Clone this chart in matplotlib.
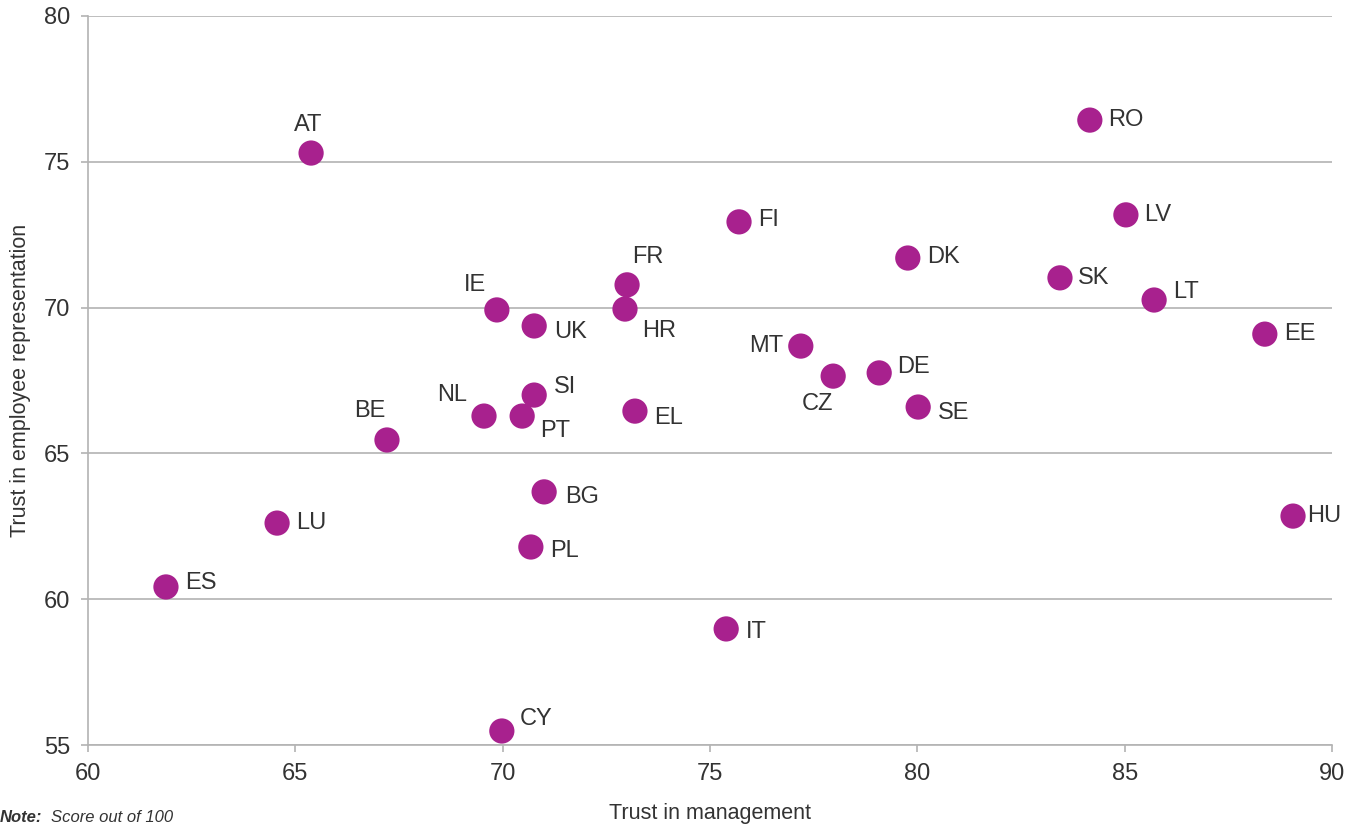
import matplotlib
matplotlib.use("Agg")
import matplotlib.pyplot as plt

countries = ["AT", "RO", "LV", "FI", "DK", "SK", "LT", "EE", "HU", "FR", "HR", "IE", "UK",
             "MT", "CZ", "DE", "SE", "SI", "NL", "PT", "EL", "BE", "BG", "LU", "PL", "ES",
             "IT", "CY"]
trust_management = [65.38, 84.16, 85.03, 75.70, 79.77, 83.44, 85.71, 88.38, 89.06, 73.00,
                    72.95, 69.86, 70.76, 77.19, 77.97, 79.08, 80.02, 70.76, 69.55, 70.47,
                    73.19, 67.21, 71.00, 64.56, 70.68, 61.88, 75.39, 69.98]
trust_representation = [75.30, 76.43, 73.18, 72.94, 71.70, 71.02, 70.26, 69.09, 62.85, 70.78,
                        69.95, 69.92, 69.37, 68.68, 67.65, 67.76, 66.59, 67.00, 66.28, 66.28,
                        66.45, 65.46, 63.68, 62.61, 61.79, 60.42, 58.98, 55.48]
# label placement: (dx, dy in points, ha)
label_pos = {
    "AT": (-2, 20, "center"), "RO": (13, 0, "left"), "LV": (13, 0, "left"),
    "FI": (14, 1, "left"), "DK": (14, 1, "left"), "SK": (13, 0, "left"),
    "LT": (14, 6, "left"), "EE": (14, 0, "left"), "HU": (10, 0, "left"),
    "FR": (4, 20, "left"), "HR": (12, -16, "left"), "IE": (-8, 18, "right"),
    "UK": (14, -4, "left"), "MT": (-13, 0, "right"), "CZ": (0, -20, "right"),
    "DE": (13, 4, "left"), "SE": (14, -4, "left"), "SI": (14, 6, "left"),
    "NL": (-12, 15, "right"), "PT": (13, -11, "left"), "EL": (14, -5, "left"),
    "BE": (-12, 21, "center"), "BG": (15, -4, "left"), "LU": (14, 0, "left"),
    "PL": (14, -3, "left"), "ES": (14, 3, "left"), "IT": (14, -2, "left"),
    "CY": (13, 9, "left"),
}

plt.rcParams['font.family'] = ['Liberation Sans', 'DejaVu Sans']
txt = "#333333"
grid = "#b3b3b3"

fig = plt.figure(figsize=(13.62, 8.25), dpi=100)
ax = fig.add_axes([88/1362, 1-745/825, (1332-88)/1362, (745-16)/825])

ax.set_xlim(60, 90)
ax.set_ylim(55, 80)
ax.set_xticks([60, 65, 70, 75, 80, 85, 90])
ax.set_yticks([55, 60, 65, 70, 75, 80])
ax.yaxis.grid(True, color=grid, linewidth=1.2)
ax.set_axisbelow(True)
for s in ["top", "right"]:
    ax.spines[s].set_visible(False)
for s in ["left", "bottom"]:
    ax.spines[s].set_color(grid)
    ax.spines[s].set_linewidth(1.2)
ax.tick_params(axis="both", colors=grid, labelcolor=txt, labelsize=17, length=5, width=1.2)
ax.tick_params(axis="x", pad=8)
ax.tick_params(axis="y", pad=8)

ax.scatter(trust_management, trust_representation, s=330, color="#a8218e", edgecolors="none",
           zorder=3, clip_on=False)

for c, x, y in zip(countries, trust_management, trust_representation):
    dx, dy, ha = label_pos[c]
    ax.annotate(c, (x, y), xytext=(dx, dy), textcoords="offset points", ha=ha, va="center",
                fontsize=17, color=txt, zorder=4)

ax.set_xlabel("Trust in management", fontsize=15.5, color=txt, labelpad=13)
ax.set_ylabel("Trust in employee representation", fontsize=15.5, color=txt, labelpad=9)

fig.text(0.0, 3/825, "Note:", fontsize=12, color=txt, style="italic", weight="bold",
         va="baseline", ha="left")
fig.text(51/1362, 3/825, "Score out of 100", fontsize=12, color=txt, style="italic",
         va="baseline", ha="left")

fig.savefig("out.png", dpi=100)
